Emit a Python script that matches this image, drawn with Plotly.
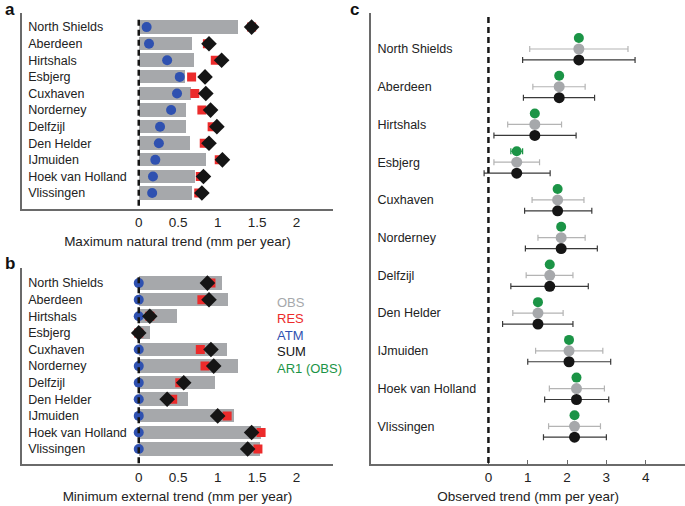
import plotly.graph_objs as go

stations = ['North Shields', 'Aberdeen', 'Hirtshals', 'Esbjerg', 'Cuxhaven',
            'Norderney', 'Delfzijl', 'Den Helder', 'IJmuiden',
            'Hoek van Holland', 'Vlissingen']

# panel a: maximum natural trend
a_obs = [1.255, 0.67, 0.70, 0.59, 0.655, 0.60, 0.60, 0.65, 0.855, 0.71, 0.67]
a_atm = [0.10, 0.13, 0.36, 0.52, 0.485, 0.41, 0.27, 0.255, 0.21, 0.18, 0.17]
a_res = [1.43, 0.87, 0.97, 0.67, 0.71, 0.80, 0.93, 0.83, 1.02, 0.78, 0.76]
a_sum = [1.43, 0.89, 1.05, 0.84, 0.85, 0.91, 0.99, 0.89, 1.06, 0.82, 0.80]

# panel b: minimum external trend
b_obs = [1.05, 1.135, 0.49, 0.14, 1.12, 1.255, 0.965, 0.62, 1.20, 1.55, 1.53]
b_atm = [0, 0, 0, 0, 0, 0, 0, 0, 0, 0, 0]
b_res = [0.915, 0.80, 0.14, 0.0, 0.78, 0.84, 0.52, 0.43, 1.12, 1.55, 1.51]
b_sum = [0.87, 0.89, 0.14, 0.0, 0.915, 0.95, 0.57, 0.36, 1.00, 1.43, 1.38]

# panel c: observed trend with ranges
c_trend = [2.30, 1.80, 1.18, 0.72, 1.76, 1.85, 1.56, 1.26, 2.05, 2.24, 2.19]
c_obs_lo = [1.05, 1.13, 0.49, 0.14, 1.11, 1.26, 0.96, 0.62, 1.20, 1.55, 1.53]
c_obs_hi = [3.55, 2.46, 1.86, 1.30, 2.43, 2.46, 2.15, 1.90, 2.91, 2.95, 2.85]
c_sum_lo = [0.87, 0.89, 0.14, -0.11, 0.92, 0.94, 0.57, 0.36, 1.00, 1.43, 1.40]
c_sum_hi = [3.73, 2.70, 2.23, 1.57, 2.63, 2.77, 2.54, 2.15, 3.11, 3.06, 3.00]
c_ar1_err = [0, 0, 0.04, 0.15, 0.07, 0.06, 0, 0, 0, 0, 0]

legend_names = ['OBS', 'RES', 'ATM', 'SUM', 'AR1 (OBS)']

GRAY = '#a6a8ab'
BLUE = '#2f51b0'
RED = '#ec2b2b'
BLACK = '#151515'
GREEN = '#1b9446'
LEG_COLORS = ['#a6a8ab', '#ec2b2b', '#2f51b0', '#151515', '#1b9446']
AXCOL = '#6a6a6a'
FONT = 'Liberation Sans, Arial, sans-serif'

rows = list(range(len(stations)))

fig = go.Figure()


def add_panel(xa, ya, obs, atm, res, tot):
    fig.add_trace(go.Bar(y=rows, x=obs, base=0, orientation='h', width=0.8,
                         marker={'color': GRAY, 'line': {'width': 0}},
                         xaxis=xa, yaxis=ya, showlegend=False))
    fig.add_trace(go.Scatter(y=rows, x=atm, mode='markers',
                             marker={'color': BLUE, 'size': 10, 'symbol': 'circle'},
                             xaxis=xa, yaxis=ya, showlegend=False))
    fig.add_trace(go.Scatter(y=rows, x=res, mode='markers',
                             marker={'color': RED, 'size': 9, 'symbol': 'square'},
                             xaxis=xa, yaxis=ya, showlegend=False))
    fig.add_trace(go.Scatter(y=rows, x=tot, mode='markers',
                             marker={'color': BLACK, 'size': 12, 'symbol': 'diamond'},
                             xaxis=xa, yaxis=ya, showlegend=False))


add_panel('x', 'y', a_obs, a_atm, a_res, a_sum)
add_panel('x2', 'y2', b_obs, b_atm, b_res, b_sum)

# panel c
off = 0.29
fig.add_trace(go.Scatter(
    y=[r + off for r in rows], x=c_trend, mode='markers',
    marker={'color': BLACK, 'size': 11},
    error_x={'type': 'data', 'symmetric': False,
             'array': [h - t for h, t in zip(c_sum_hi, c_trend)],
             'arrayminus': [t - l for t, l in zip(c_trend, c_sum_lo)],
             'color': '#3a3a3a', 'thickness': 1.2, 'width': 3},
    xaxis='x3', yaxis='y3', showlegend=False))
fig.add_trace(go.Scatter(
    y=rows, x=c_trend, mode='markers',
    marker={'color': GRAY, 'size': 11},
    error_x={'type': 'data', 'symmetric': False,
             'array': [h - t for h, t in zip(c_obs_hi, c_trend)],
             'arrayminus': [t - l for t, l in zip(c_trend, c_obs_lo)],
             'color': '#b4b4b4', 'thickness': 1.2, 'width': 3},
    xaxis='x3', yaxis='y3', showlegend=False))
fig.add_trace(go.Scatter(
    y=[r - off for r in rows], x=c_trend, mode='markers',
    marker={'color': GREEN, 'size': 10},
    error_x={'type': 'data', 'array': c_ar1_err, 'color': GREEN,
             'thickness': 1.2, 'width': 3},
    xaxis='x3', yaxis='y3', showlegend=False))

xcommon = dict(showgrid=False, zeroline=False, showline=True, linecolor=AXCOL,
               linewidth=1.5, automargin=False,
               tickfont={'size': 13.5, 'color': '#222'},
               title_font={'size': 13.5, 'color': '#222'}, title_standoff=8)
ycommon = dict(showgrid=False, zeroline=False, showline=True, linecolor=AXCOL,
               linewidth=1.5, automargin=False, tickmode='array',
               tickvals=rows, ticktext=stations,
               ticks='', ticklabelposition='inside', ticklabelstandoff=6,
               tickfont={'size': 12.5, 'color': '#222'})

fig.update_layout(
    width=685, height=506, margin={'l': 0, 'r': 0, 't': 0, 'b': 0},
    paper_bgcolor='white', plot_bgcolor='white',
    font={'family': FONT, 'color': '#222'},
    bargap=0,
    xaxis=dict(xcommon, domain=[0.032, 0.486], range=[-1.48, 2.46],
               tickvals=[0, 0.5, 1, 1.5, 2], ticktext=['0', '0.5', '1', '1.5', '2'],
               ticks='', anchor='y',
               title_text='Maximum natural trend (mm per year)'),
    yaxis=dict(ycommon, domain=[0.587, 0.974], range=[10.96, -0.84], anchor='x'),
    xaxis2=dict(xcommon, domain=[0.032, 0.486], range=[-1.48, 2.46],
                tickvals=[0, 0.5, 1, 1.5, 2], ticktext=['0', '0.5', '1', '1.5', '2'],
                ticks='', anchor='y2',
                title_text='Minimum external trend (mm per year)'),
    yaxis2=dict(ycommon, domain=[0.083, 0.470], range=[10.9, -0.9], anchor='x2'),
    xaxis3=dict(xcommon, domain=[0.542, 1.0], range=[-2.98, 5.0],
                tickvals=[0, 1, 2, 3, 4], ticks='inside', ticklen=4,
                tickcolor=AXCOL, anchor='y3',
                title_text='Observed trend (mm per year)'),
    yaxis3=dict(ycommon, domain=[0.083, 0.974], range=[11.0, -0.95], anchor='x3'),
)

# dashed zero lines
for xr, yr, top, bot in [('x', 'y', -0.45, 10.96), ('x2', 'y2', -0.35, 10.9),
                         ('x3', 'y3', -0.85, 11.0)]:
    fig.add_shape(type='line', xref=xr, yref=yr, x0=0, x1=0, y0=top, y1=bot,
                  line={'color': BLACK, 'width': 2.5, 'dash': '6px,4px'},
                  layer='above')

# legend text in panel b
for i, (name, col) in enumerate(zip(legend_names, LEG_COLORS)):
    fig.add_annotation(x=1.73, y=1.15 + i, xref='x2', yref='y2', text=name,
                       showarrow=False, xanchor='left',
                       font={'size': 13, 'color': col})

# panel letters
for txt, x, y in [('a', 0.004, 0.982), ('b', 0.004, 0.48), ('c', 0.508, 0.982)]:
    fig.add_annotation(x=x, y=y, xref='paper', yref='paper', text='<b>%s</b>' % txt,
                       showarrow=False, xanchor='left', yanchor='middle',
                       font={'size': 17, 'color': '#111'})

# page body has a default 8px margin; drop it so the figure fills the window
fig.write_html('out.html', config={'displayModeBar': False},
               post_script="document.body.style.margin='0';")
